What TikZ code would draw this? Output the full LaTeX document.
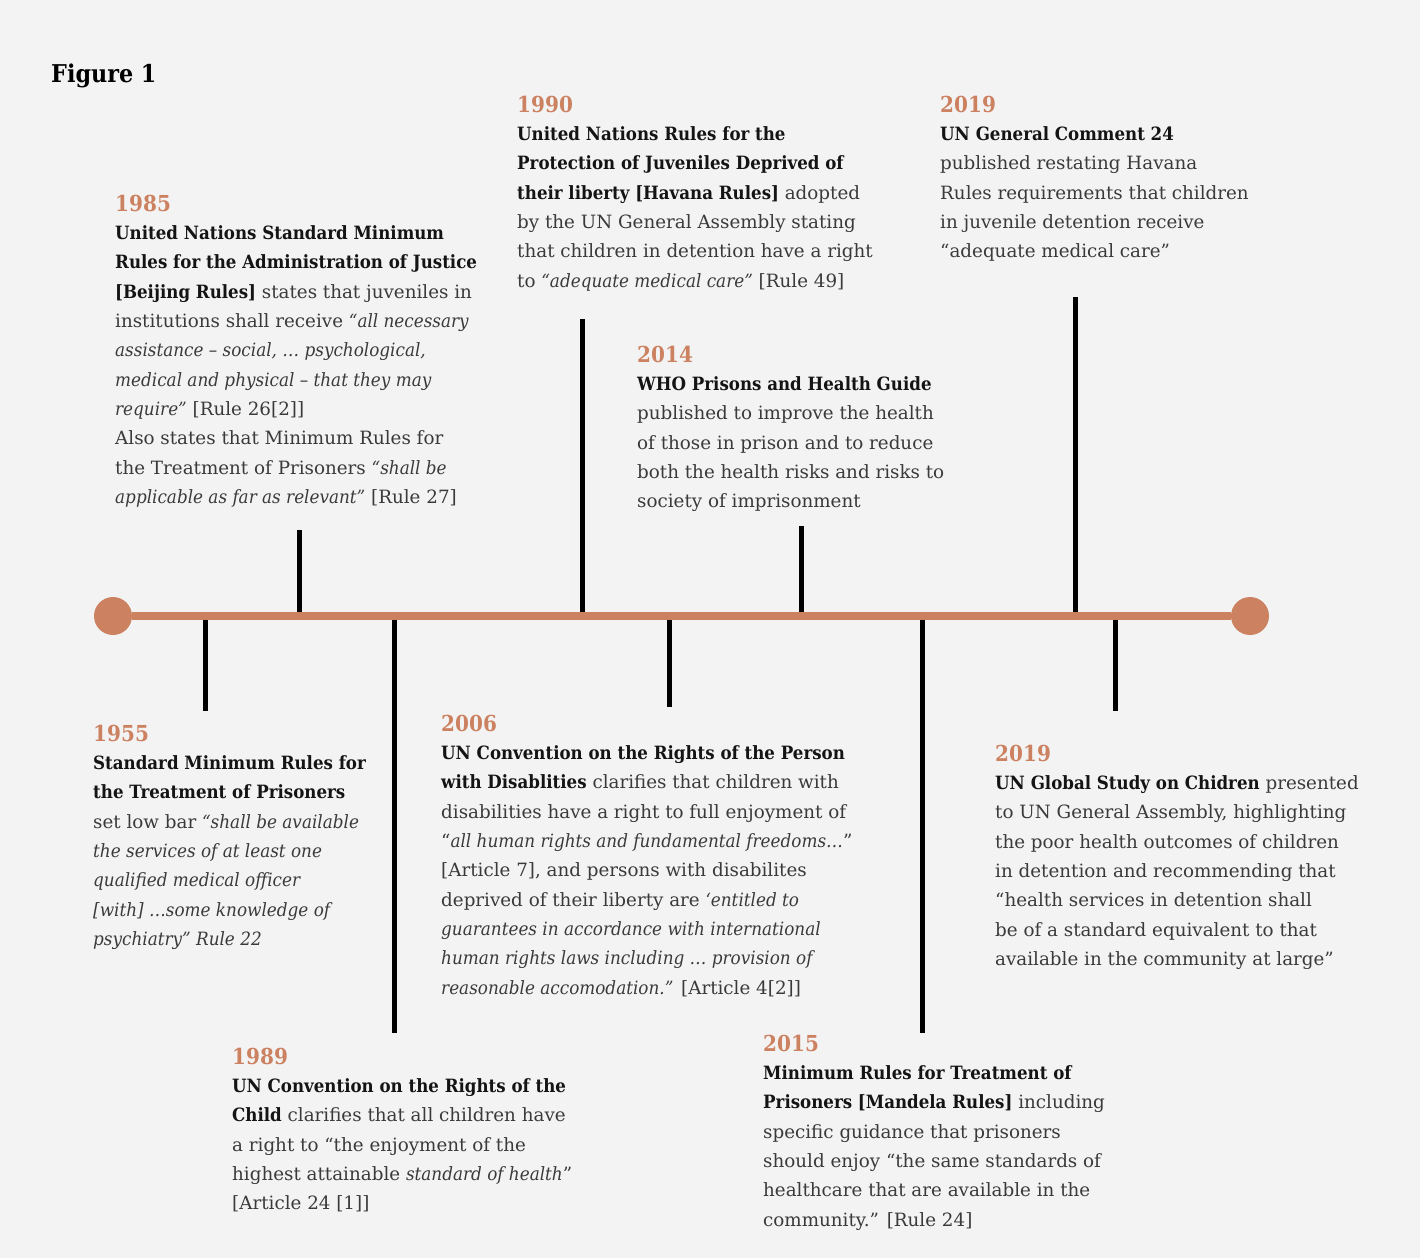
\documentclass[tikz,border=0pt]{standalone}
\usepackage{fontspec}
\setmainfont{DejaVu Serif}[BoldFeatures={FakeStretch=0.91}, ItalicFeatures={FakeStretch=0.92}]
\usetikzlibrary{positioning}

\definecolor{paper}{HTML}{F3F3F3}
\definecolor{ochre}{HTML}{CC8261}
\definecolor{inkgray}{HTML}{3A3A3A}
\definecolor{inkdark}{HTML}{141414}

\newcommand{\bhead}[1]{{\bfseries\color{inkdark}#1}}

\tikzset{
	yearlabel/.style={anchor=base west, inner sep=0pt, text=ochre, font=\fontsize{22}{26}\selectfont\bfseries},
	entry/.style={anchor=north west, inner sep=0pt, align=left, text=inkgray, yshift=-14.5pt,
		font=\fontsize{18.3}{29.3}\selectfont, execute at begin node={\rule{0pt}{20pt}}},
	stem/.style={line width=5pt, black},
	timeline/.style={line width=8pt, ochre},
	dot/.style={circle, fill=ochre, minimum size=38pt, inner sep=0pt}
}

\begin{document}
\begin{tikzpicture}[x=1pt, y=-1pt]
	% Background:
	\fill[paper] (0,0) rectangle (1420,1258);
	\useasboundingbox (0,0) rectangle (1420,1258);
	\node[anchor=base west, inner sep=0pt, font=\fontsize{24.5}{28}\selectfont\bfseries] (title) at (51,82) {Figure 1};

	% Stems:
	\coordinate (o1955) at (205,616); \coordinate (e1955) at (205,711);
	\coordinate (o1985) at (299,616); \coordinate (e1985) at (299,530);
	\coordinate (o1989) at (394,616); \coordinate (e1989) at (394,1033);
	\coordinate (o1990) at (582,616); \coordinate (e1990) at (582,319);
	\coordinate (o2006) at (669,616); \coordinate (e2006) at (669,707);
	\coordinate (o2014) at (801,616); \coordinate (e2014) at (801,526);
	\coordinate (o2015) at (922,616); \coordinate (e2015) at (922,1033);
	\coordinate (o2019a) at (1075,616); \coordinate (e2019a) at (1075,297);
	\coordinate (o2019b) at (1115,616); \coordinate (e2019b) at (1115,711);
	\draw[stem] (o1955) -- (e1955);
	\draw[stem] (o1985) -- (e1985);
	\draw[stem] (o1989) -- (e1989);
	\draw[stem] (o1990) -- (e1990);
	\draw[stem] (o2006) -- (e2006);
	\draw[stem] (o2014) -- (e2014);
	\draw[stem] (o2015) -- (e2015);
	\draw[stem] (o2019a) -- (e2019a);
	\draw[stem] (o2019b) -- (e2019b);

	% Timeline:
	\node[dot] (start) at (113,616) {};
	\node[dot] (end) at (1250,616) {};
	\draw[timeline] (start) -- (end);

	% Entries above:
	\node[yearlabel] (yr1985) at (115,211) {1985};
	\node[entry] (txt1985) at (yr1985.base west) {\bhead{United Nations Standard Minimum}\\
		\bhead{Rules for the Administration of Justice}\\
		\bhead{[Beijing Rules]} states that juveniles in\\
		institutions shall receive \textit{“all necessary}\\
		\textit{assistance – social, … psychological,}\\
		\textit{medical and physical – that they may}\\
		\textit{require”} [Rule 26[2]]\\
		Also states that Minimum Rules for\\
		the Treatment of Prisoners \textit{“shall be}\\
		\textit{applicable as far as relevant”} [Rule 27]};

	\node[yearlabel] (yr1990) at (517,112) {1990};
	\node[entry] (txt1990) at (yr1990.base west) {\bhead{United Nations Rules for the}\\
		\bhead{Protection of Juveniles Deprived of}\\
		\bhead{their liberty [Havana Rules]} adopted\\
		by the UN General Assembly stating\\
		that children in detention have a right\\
		to \textit{“adequate medical care”} [Rule 49]};

	\node[yearlabel] (yr2014) at (637,362) {2014};
	\node[entry] (txt2014) at (yr2014.base west) {\bhead{WHO Prisons and Health Guide}\\
		published to improve the health\\
		of those in prison and to reduce\\
		both the health risks and risks to\\
		society of imprisonment};

	\node[yearlabel] (yr2019a) at (940,112) {2019};
	\node[entry] (txt2019a) at (yr2019a.base west) {\bhead{UN General Comment 24}\\
		published restating Havana\\
		Rules requirements that children\\
		in juvenile detention receive\\
		“adequate medical care”};

	% Entries below:
	\node[yearlabel] (yr1955) at (93,741) {1955};
	\node[entry] (txt1955) at (yr1955.base west) {\bhead{Standard Minimum Rules for}\\
		\bhead{the Treatment of Prisoners}\\
		set low bar \textit{“shall be available}\\
		\textit{the services of at least one}\\
		\textit{qualified medical officer}\\
		\textit{[with] …some knowledge of}\\
		\textit{psychiatry” Rule 22}};

	\node[yearlabel] (yr2006) at (441,731) {2006};
	\node[entry] (txt2006) at (yr2006.base west) {\bhead{UN Convention on the Rights of the Person}\\
		\bhead{with Disablities} clarifies that children with\\
		disabilities have a right to full enjoyment of\\
		“\textit{all human rights and fundamental freedoms…}”\\
		{[}Article 7], and persons with disabilites\\
		deprived of their liberty are \textit{‘entitled to}\\
		\textit{guarantees in accordance with international}\\
		\textit{human rights laws including … provision of}\\
		\textit{reasonable accomodation.”} [Article 4[2]]};

	\node[yearlabel] (yr2019b) at (995,761) {2019};
	\node[entry] (txt2019b) at (yr2019b.base west) {\bhead{UN Global Study on Chidren} presented\\
		to UN General Assembly, highlighting\\
		the poor health outcomes of children\\
		in detention and recommending that\\
		“health services in detention shall\\
		be of a standard equivalent to that\\
		available in the community at large”};

	\node[yearlabel] (yr1989) at (232,1064) {1989};
	\node[entry] (txt1989) at (yr1989.base west) {\bhead{UN Convention on the Rights of the}\\
		\bhead{Child} clarifies that all children have\\
		a right to “the enjoyment of the\\
		highest attainable \textit{standard of health}”\\
		{[}Article 24 [1]]};

	\node[yearlabel] (yr2015) at (763,1051) {2015};
	\node[entry] (txt2015) at (yr2015.base west) {\bhead{Minimum Rules for Treatment of}\\
		\bhead{Prisoners [Mandela Rules]} including\\
		specific guidance that prisoners\\
		should enjoy “the same standards of\\
		healthcare that are available in the\\
		community.” [Rule 24]};
\end{tikzpicture}
\end{document}
